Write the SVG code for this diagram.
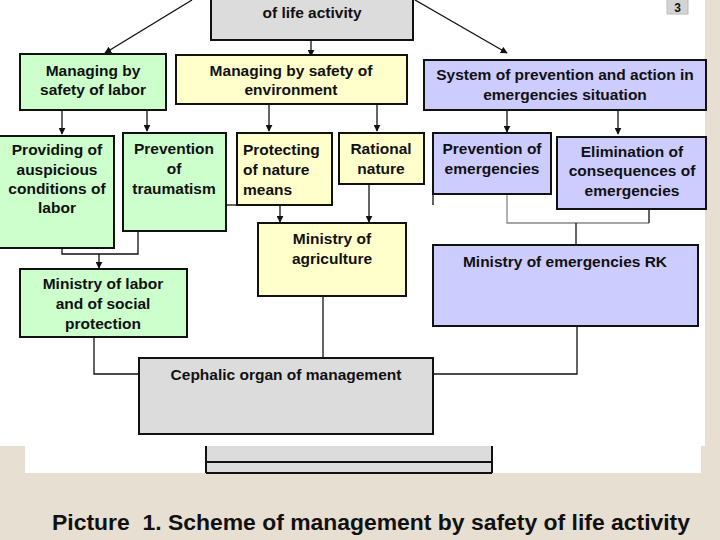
<svg xmlns="http://www.w3.org/2000/svg" width="720" height="540" viewBox="0 0 720 540">
<defs>
<style>
.t{font-family:"Liberation Sans",Arial,sans-serif;font-weight:bold;font-size:15.5px;fill:#111;text-anchor:middle}
.tl{text-anchor:start}
.b{stroke:#111;stroke-width:2}
.g{fill:#ccffcc}.y{fill:#ffffcc}.p{fill:#ccccff}.r{fill:#dcdcdc}
.c{fill:none;stroke:#111;stroke-width:1.3}
.cg{fill:none;stroke:#888;stroke-width:1.3}
.a{marker-end:url(#ah)}
</style>
<marker id="ah" viewBox="0 0 10 10" refX="9" refY="5" markerWidth="7" markerHeight="7" markerUnits="userSpaceOnUse" orient="auto">
<path d="M0,0 L10,5 L0,10 z" fill="#111"/>
</marker>
</defs>
<rect x="0" y="0" width="720" height="540" fill="#e7dfd1"/>
<rect x="0" y="0" width="705" height="446" fill="#ffffff"/>
<rect x="25" y="440" width="676" height="33" fill="#ffffff"/>

<g id="connectors">
<line class="c a" x1="192" y1="0" x2="105" y2="53"/>
<line class="c a" x1="415" y1="0" x2="507" y2="53"/>
<line class="c a" x1="311" y1="40" x2="311" y2="56"/>
<line class="c a" x1="62" y1="110" x2="62" y2="134"/>
<line class="c a" x1="147" y1="110" x2="147" y2="131"/>
<line class="c a" x1="269" y1="104" x2="269" y2="131"/>
<line class="c a" x1="377" y1="104" x2="377" y2="131"/>
<line class="c a" x1="507" y1="110" x2="507" y2="132"/>
<line class="c a" x1="618" y1="110" x2="618" y2="134"/>
<polyline class="c" points="62,248 62,254 138,254 138,231"/>
<line class="c a" x1="99" y1="254" x2="99" y2="268"/>
<line class="c" x1="226" y1="205" x2="237" y2="205"/>
<line class="c a" x1="280" y1="205" x2="280" y2="222"/>
<line class="c a" x1="369" y1="176" x2="369" y2="222"/>
<line class="c" x1="323" y1="177" x2="323" y2="205"/>
<line class="c" x1="433" y1="194" x2="433" y2="205"/>
<polyline class="cg" points="507,194 507,223 649,223"/>
<line class="c" x1="649" y1="223" x2="649" y2="209"/>
<line class="c" x1="576" y1="223" x2="576" y2="245"/>
<line class="c" x1="323" y1="296" x2="323" y2="358"/>
<polyline class="c" points="94,337 94,374 139,374"/>
<polyline class="c" points="577,326 577,374 433,374"/>
</g>

<g id="top">
<rect class="b r" x="211" y="-4" width="202" height="44"/>
<text class="t" x="312" y="18">of life activity</text>
</g>
<g id="page">
<rect x="667" y="-4" width="21" height="18" fill="#d4d4d4" stroke="#bbb" stroke-width="1"/>
<text class="t" x="677.5" y="12" style="font-size:12px">3</text>
</g>

<g id="labor">
<rect class="b g" x="20" y="54" width="146" height="56"/>
<text class="t" x="93" y="76">Managing by</text>
<text class="t" x="93" y="95">safety of labor</text>
</g>
<g id="env">
<rect class="b y" x="176" y="55" width="231" height="49"/>
<text class="t" x="291" y="76">Managing by safety of</text>
<text class="t" x="291" y="95">environment</text>
</g>
<g id="system">
<rect class="b p" x="424" y="60" width="282" height="50"/>
<text class="t" x="565" y="80">System of prevention and action in</text>
<text class="t" x="565" y="100">emergencies situation</text>
</g>

<g id="providing">
<rect class="b g" x="-1" y="136" width="115" height="112"/>
<text class="t" x="57" y="155">Providing of</text>
<text class="t" x="57" y="175">auspicious</text>
<text class="t" x="57" y="194">conditions of</text>
<text class="t" x="57" y="213">labor</text>
</g>
<g id="trauma">
<rect class="b g" x="123" y="133" width="103" height="98"/>
<text class="t" x="174" y="154">Prevention</text>
<text class="t" x="174" y="174">of</text>
<text class="t" x="174" y="194">traumatism</text>
</g>
<g id="protect">
<rect class="b y" x="237" y="133" width="95" height="72"/>
<text class="t tl" x="243" y="155">Protecting</text>
<text class="t tl" x="243" y="175">of nature</text>
<text class="t tl" x="243" y="195">means</text>
</g>
<g id="rational">
<rect class="b y" x="339" y="133" width="85" height="51"/>
<text class="t" x="381" y="154">Rational</text>
<text class="t" x="381" y="174">nature</text>
</g>
<g id="prevEm">
<rect class="b p" x="433" y="133" width="118" height="61"/>
<text class="t" x="492" y="154">Prevention of</text>
<text class="t" x="492" y="174">emergencies</text>
</g>
<g id="elim">
<rect class="b p" x="557" y="137" width="149" height="72"/>
<text class="t" x="632" y="157">Elimination of</text>
<text class="t" x="632" y="176">consequences of</text>
<text class="t" x="632" y="196">emergencies</text>
</g>

<g id="agri">
<rect class="b y" x="258" y="223" width="148" height="73"/>
<text class="t" x="332" y="244">Ministry of</text>
<text class="t" x="332" y="264">agriculture</text>
</g>
<g id="minlabor">
<rect class="b g" x="20" y="269" width="167" height="68"/>
<text class="t" x="103" y="289">Ministry of labor</text>
<text class="t" x="103" y="309">and of social</text>
<text class="t" x="103" y="329">protection</text>
</g>
<g id="minrk">
<rect class="b p" x="433" y="245" width="265" height="81"/>
<text class="t" x="565" y="267">Ministry of emergencies RK</text>
</g>
<g id="cephalic">
<rect class="b r" x="139" y="358" width="294" height="76"/>
<text class="t" x="286" y="380">Cephalic organ of management</text>
</g>
<g id="strip">
<rect x="206" y="446" width="286" height="27" fill="#dcdcdc"/>
<path d="M206,446 V473 M492,446 V473 M206,462 H492 M206,473 H492" stroke="#111" stroke-width="2" fill="none"/>
</g>

<text class="t tl" x="52" y="530" style="font-size:22px;white-space:pre" textLength="638" lengthAdjust="spacingAndGlyphs">Picture  1. Scheme of management by safety of life activity</text>
</svg>
